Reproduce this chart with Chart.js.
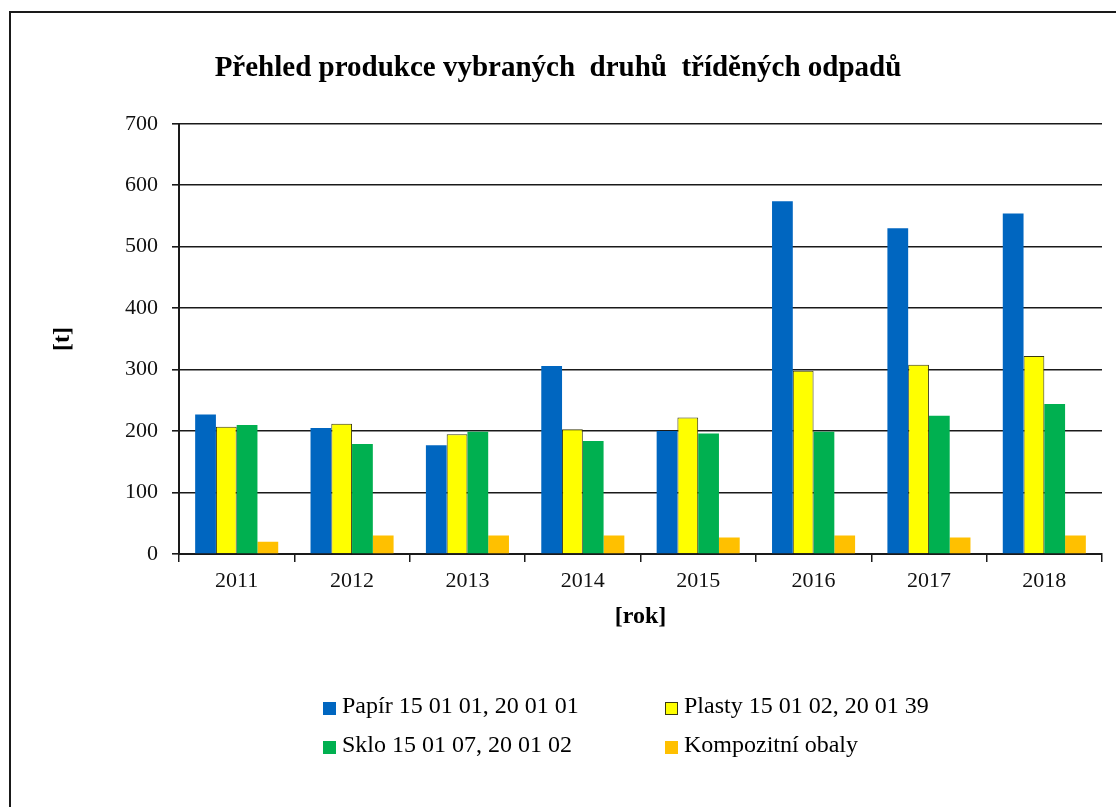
<!DOCTYPE html>
<html><head><meta charset="utf-8">
<script src="https://cdn.jsdelivr.net/npm/chart.js@4/dist/chart.umd.min.js"></script>
<style>html,body{margin:0;padding:0;background:#fff;overflow:hidden;}</style>
</head><body>
<canvas id="c" width="1116" height="807"></canvas>
<script>
const chartTitle = 'Přehled produkce vybraných  druhů  tříděných odpadů';
const categories = ['2011', '2012', '2013', '2014', '2015', '2016', '2017', '2018'];
const seriesNames = ['Papír 15 01 01, 20 01 01', 'Plasty 15 01 02, 20 01 39', 'Sklo 15 01 07, 20 01 02', 'Kompozitní obaly'];
const papir = [227, 205, 177, 306, 200, 574, 530, 554];
const plasty = [207, 212, 195, 203, 222, 298, 308, 322];
const sklo = [210, 179, 199, 184, 196, 199, 225, 244];
const kompozitni = [20, 30, 30, 30, 27, 30, 27, 30];
const yTickValues = [0, 100, 200, 300, 400, 500, 600, 700];
const xAxisTitle = '[rok]';
const yAxisTitle = '[t]';

const FONT = "'Liberation Serif', 'Times New Roman', serif";

const framePlugin = {
  id: 'frame',
  beforeDraw(chart) {
    const ctx = chart.ctx;
    ctx.save();
    ctx.fillStyle = '#fff';
    ctx.fillRect(0, 0, chart.width, chart.height);
    ctx.strokeStyle = '#1a1a1a';
    ctx.lineWidth = 2;
    ctx.beginPath();
    ctx.moveTo(10, chart.height + 5);
    ctx.lineTo(10, 12);
    ctx.lineTo(chart.width + 5, 12);
    ctx.stroke();
    ctx.restore();
  }
};

const legendPlugin = {
  id: 'gridLegend',
  afterDraw(chart) {
    const ctx = chart.ctx;
    const cols = [323, 665];
    const rows = [707, 746];
    ctx.save();
    ctx.font = '24px ' + FONT;
    ctx.textBaseline = 'middle';
    ctx.textAlign = 'left';
    chart.data.datasets.forEach((ds, i) => {
      const x = cols[i % 2];
      const y = rows[Math.floor(i / 2)];
      ctx.fillStyle = ds.backgroundColor;
      ctx.fillRect(x, y - 5, 13, 13);
      if (ds.borderWidth) {
        ctx.strokeStyle = ds.borderColor;
        ctx.lineWidth = 1;
        ctx.strokeRect(x + 0.5, y - 4.5, 12, 12);
      }
      ctx.fillStyle = '#000';
      ctx.fillText(ds.label, x + 19, y);
    });
    ctx.restore();
  }
};

new Chart(document.getElementById('c'), {
  type: 'bar',
  data: {
    labels: categories,
    datasets: [
      { label: seriesNames[0], data: papir, backgroundColor: '#0066C0', borderWidth: 0 },
      { label: seriesNames[1], data: plasty, backgroundColor: '#FFFF00', borderColor: '#3a3a10', borderWidth: 1 },
      { label: seriesNames[2], data: sklo, backgroundColor: '#00B050', borderWidth: 0 },
      { label: seriesNames[3], data: kompozitni, backgroundColor: '#FFC000', borderWidth: 0 }
    ]
  },
  options: {
    responsive: false,
    animation: false,
    devicePixelRatio: 1,
    layout: { padding: { left: 14, right: 14, top: 0, bottom: 0 } },
    datasets: { bar: { categoryPercentage: 0.72, barPercentage: 1.0 } },
    plugins: {
      legend: { display: false },
      tooltip: { enabled: false },
      title: {
        display: true,
        text: chartTitle,
        color: '#000',
        font: { family: FONT, size: 29, weight: 'bold' },
        padding: { top: 51, bottom: 38 }
      }
    },
    scales: {
      x: {
        grid: { display: true, drawOnChartArea: false, drawTicks: true, tickLength: 8, color: '#1a1a1a', lineWidth: 1.5, offset: true },
        border: { display: true, color: '#1a1a1a', width: 2 },
        ticks: { color: '#111', font: { family: FONT, size: 22 }, padding: 6, maxRotation: 0 },
        title: { display: true, text: xAxisTitle, color: '#000', font: { family: FONT, size: 24, weight: 'bold' }, padding: { top: 0, bottom: 176 } },
        afterFit(s) { s.height = 253; }
      },
      y: {
        min: 0, max: 700,
        afterBuildTicks(s) { s.ticks = yTickValues.map(v => ({ value: v })); },
        grid: { color: '#1a1a1a', lineWidth: 1.6, drawTicks: true, tickLength: 7 },
        border: { display: true, color: '#1a1a1a', width: 2 },
        ticks: { color: '#111', font: { family: FONT, size: 22 }, padding: 14 },
        title: { display: true, text: yAxisTitle, color: '#000', font: { family: FONT, size: 24, weight: 'bold' }, padding: { top: 34, bottom: 0 } },
        afterFit(s) { s.width = 165; }
      }
    }
  },
  plugins: [framePlugin, legendPlugin]
});
</script>
</body></html>
